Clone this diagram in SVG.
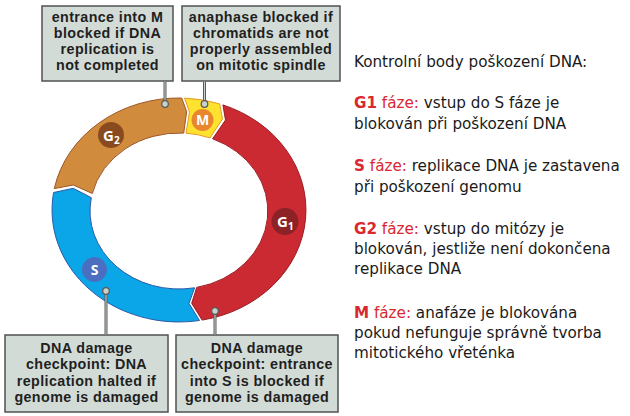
<svg xmlns="http://www.w3.org/2000/svg" width="630" height="416" viewBox="0 0 630 416">
<style>
.box{fill:#d3dbd6;stroke:#4f5250;stroke-width:1.5}
.bt{font-family:"Liberation Sans",Arial,sans-serif;font-weight:bold;font-size:14.3px;letter-spacing:0.4px;fill:#1f1f1f;text-anchor:middle}
.lo{stroke:#5a5c5b;stroke-width:3;fill:none}
.li{stroke:#c9d1cd;stroke-width:1;fill:none}
.dot{fill:#c9d1cd;stroke:#5a5c5b;stroke-width:1.3}
.lab{font-family:"Open Sans","DejaVu Sans",sans-serif;font-weight:bold;fill:#ffffff}
.rt{font-family:"DejaVu Sans",sans-serif;font-size:15.2px;fill:#1a1a1a}
.red{fill:#d92830}
</style>
<rect width="630" height="416" fill="#ffffff"/>

<g id="phase-G1">
<path d="M222.9,104.9 A127,112 0 0 1 202.1,320.1 L191.7,303.3 L196.7,287.4 A89,78 0 0 0 212.6,138.8 L225.5,120 Z" fill="#cc2a32" stroke="#9a1c22" stroke-width="1"/>
<circle cx="285" cy="221.5" r="13.5" fill="#8c2126"/>
<text class="lab" x="277" y="227" font-size="15">G<tspan font-size="10" dy="3">1</tspan></text>
</g>
<g id="phase-S">
<path d="M199.5,320.5 A127,112 0 0 1 53.6,192.5 L73.3,188.3 L91.3,197.7 A89,78 0 0 0 194.6,287.8 L189,303.5 Z" fill="#0aa6e8" stroke="#2b5aa6" stroke-width="1"/>
<circle cx="94.5" cy="269.5" r="12.5" fill="#4b6fc0"/>
<text class="lab" x="94.5" y="274.5" font-size="14" text-anchor="middle">S</text>
</g>
<g id="phase-G2">
<path d="M54.3,188.6 A127,112 0 0 1 181.7,98 L186.7,111.7 L183.7,133.1 A89,78 0 0 0 92.3,193.5 L73.3,185 Z" fill="#d18b3c" stroke="#9c5628" stroke-width="1"/>
<circle cx="111" cy="135" r="13" fill="#8a4a1f"/>
<text class="lab" x="103" y="140.5" font-size="15">G<tspan font-size="10" dy="3">2</tspan></text>
</g>
<g id="phase-M">
<path d="M184.5,98.1 A127,112 0 0 1 219.7,103.9 L222.5,119 L210,137.9 A89,78 0 0 0 186,133.2 L189.5,112 Z" fill="#ffe22e" stroke="#e49a2a" stroke-width="1"/>
<circle cx="202.5" cy="120" r="11" fill="#e8872e"/>
<text class="lab" x="202.5" y="125" font-size="14" text-anchor="middle">M</text>
</g>

<g id="box-g2m">
<rect class="box" x="42" y="6" width="131" height="75"/>
<text class="bt" x="107.5" y="21.7">entrance into M</text>
<text class="bt" x="107.5" y="37.9">blocked if DNA</text>
<text class="bt" x="107.5" y="54.1">replication is</text>
<text class="bt" x="107.5" y="70.3">not completed</text>
</g>
<g id="box-m">
<rect class="box" x="182" y="6" width="158" height="75"/>
<text class="bt" x="261" y="21.7">anaphase blocked if</text>
<text class="bt" x="261" y="37.9">chromatids are not</text>
<text class="bt" x="261" y="54.1">properly assembled</text>
<text class="bt" x="261" y="70.3">on mitotic spindle</text>
</g>
<g id="box-s">
<rect class="box" x="5" y="335" width="163" height="77"/>
<text class="bt" x="86.5" y="353.3">DNA damage</text>
<text class="bt" x="86.5" y="369.4">checkpoint: DNA</text>
<text class="bt" x="86.5" y="385.5">replication halted if</text>
<text class="bt" x="86.5" y="401.6">genome is damaged</text>
</g>
<g id="box-g1">
<rect class="box" x="176" y="335" width="162" height="77"/>
<text class="bt" x="257" y="353.3">DNA damage</text>
<text class="bt" x="257" y="369.4">checkpoint: entrance</text>
<text class="bt" x="257" y="385.5">into S is blocked if</text>
<text class="bt" x="257" y="401.6">genome is damaged</text>
</g>

<g id="connectors">
<path class="lo" d="M165,81.5 V104 M204.5,81.5 V104 M106,291 V334.5 M215,311 V334.5"/>
<path class="li" d="M165,81.5 V104 M204.5,81.5 V104 M106,291 V334.5 M215,311 V334.5"/>
<circle class="dot" cx="165" cy="104" r="3.3"/>
<circle class="dot" cx="204.5" cy="104" r="3.3"/>
<circle class="dot" cx="106" cy="291" r="3.3"/>
<circle class="dot" cx="215" cy="311" r="3.3"/>
</g>

<g id="legend">
<text class="rt" x="354" y="66.7">Kontrolní body poškození DNA:</text>
<text class="rt" x="354" y="108.3"><tspan class="red" font-weight="bold">G1</tspan><tspan class="red"> fáze:</tspan> vstup do S fáze je</text>
<text class="rt" x="354" y="128.7">blokován při poškození DNA</text>
<text class="rt" x="354" y="171"><tspan class="red" font-weight="bold">S</tspan><tspan class="red"> fáze:</tspan> replikace DNA je zastavena</text>
<text class="rt" x="354" y="191.5">při poškození genomu</text>
<text class="rt" x="354" y="234"><tspan class="red" font-weight="bold">G2</tspan><tspan class="red"> fáze:</tspan> vstup do mitózy je</text>
<text class="rt" x="354" y="254">blokován, jestliže není dokončena</text>
<text class="rt" x="354" y="274">replikace DNA</text>
<text class="rt" x="354" y="317.7"><tspan class="red" font-weight="bold">M</tspan><tspan class="red"> fáze:</tspan> anafáze je blokována</text>
<text class="rt" x="354" y="337.7">pokud nefunguje správně tvorba</text>
<text class="rt" x="354" y="358">mitotického vřeténka</text>
</g>
</svg>
